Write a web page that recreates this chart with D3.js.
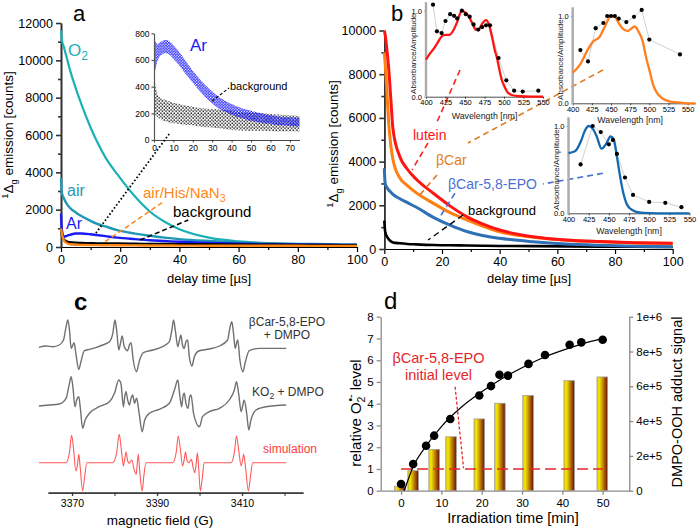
<!DOCTYPE html>
<html><head><meta charset="utf-8">
<script src="https://cdn.jsdelivr.net/npm/d3@7/dist/d3.min.js"></script>
<style>html,body{margin:0;padding:0;background:#fff;} svg{display:block;}</style>
</head><body>
<svg id="chart" width="698" height="528"></svg>
<script>
// ================= DATA =================
// Panel a : 1Δg emission decays
const aTime = [0,0.3,1,2,3,5,7,10,12,15,19,25,30,35,40,50,60,70,80,90,100];
const aO2   = [11600,11100,10700,10100,9500,8500,7600,6400,5700,4800,3900,2700,1900,1350,950,500,300,200,150,120,100];
const aAir  = [3700,2900,2600,2300,2100,1850,1650,1400,1250,1100,900,720,600,500,420,320,250,200,170,150,130];
const aAr   = [1800,900,550,600,650,720,720,680,640,580,500,420,360,320,280,220,180,150,130,120,110];
const aBg   = [1000,600,400,300,260,230,220,210,200,200,190,180,170,165,160,150,140,130,120,110,100];
const aAirHisNaN3 = [1000,700,350,200,150,120,110,100,100,95,90,85,80,80,75,70,70,65,65,60,60];
const aXTicks = [0,20,40,60,80,100];
const aYTicks = [0,2000,4000,6000,8000,10000,12000];
// Panel a inset (Ar vs background, scatter envelopes)
const insTime   = [0,2,4,6,8,10,13,16,20,24,28,32,36,40,45,50,55,60,65,70,75];
const insArLow  = [480,600,640,650,640,610,560,500,430,360,300,250,215,190,165,145,130,120,110,105,100];
const insArHigh = [760,720,740,750,740,710,660,600,520,450,390,340,300,270,240,220,200,185,175,170,165];
const insBgLow  = [200,170,150,140,130,125,120,115,110,100,95,90,85,75,72,70,70,68,66,65,64];
const insBgHigh = [470,340,310,300,290,280,270,260,250,240,235,230,225,220,210,205,200,195,190,185,180];
const insXTicks = [0,10,20,30,40,50,60,70];
const insYTicks = [0,200,400,600,800];

// Panel b : carotenoid decays
const bTime    = [0,0.3,1,1.5,2.3,3,5.4,8,11,17,23,28.6,34,40,51.6,63,75,87,100];
const bLutein  = [10000,9800,9000,8300,6800,5500,4220,3650,3200,2550,1950,1480,1150,870,560,410,340,290,260];
const bBetaCar = [9000,8500,7000,5800,4700,4100,3250,2900,2580,2090,1650,1330,1050,790,540,400,330,280,250];
const bEPO     = [3700,3000,2800,2700,2600,2500,2300,2120,1920,1450,1080,800,620,490,334,230,170,130,100];
const bBg      = [1300,800,550,450,350,300,260,230,210,180,170,160,150,140,130,120,110,100,90];
const bXTicks = [0,20,40,60,80,100];
const bYTicks = [0,2000,4000,6000,8000,10000];
// Panel b insets : absorbance spectra (curves) and emission amplitudes (points)
const nmTicks = [400,425,450,475,500,525,550];
const luteinNm  = [400,405,410,415,420,425,430,435,440,446,450,455,460,464,468,472,477,481,485,488,491,494,497,500,504,510,520,535,550];
const luteinAbs = [0.43,0.5,0.56,0.63,0.70,0.72,0.72,0.77,0.87,1.0,0.98,0.93,0.84,0.78,0.79,0.85,0.89,0.83,0.68,0.55,0.45,0.32,0.2,0.13,0.06,0.02,0.005,0,0];
const luteinPtNm  = [409,414,420,425,431,436,440,446,451,456,461,467,472,477,482,493,503,513,524,544];
const luteinPtAmp = [1.07,0.76,0.74,0.88,0.96,0.94,0.91,1.0,0.96,0.93,0.84,0.78,0.81,0.83,0.83,0.45,0.19,0.07,0.06,0.07];
const betaCarNm  = [400,410,420,427,435,442,450,455,460,466,472,477,481,486,491,496,501,505,510,515,520,530,545,560];
const betaCarAbs = [0.35,0.45,0.62,0.71,0.76,0.88,1.0,0.99,0.92,0.85,0.83,0.86,0.88,0.82,0.72,0.52,0.35,0.21,0.12,0.07,0.04,0.015,0.003,0];
const betaCarPtNm  = [410,420,430,440,445,450,455,460,470,480,490,500,540];
const betaCarPtAmp = [0.61,0.48,0.86,0.92,1.0,1.0,1.0,0.97,0.93,0.99,1.07,0.73,0.56];
const epoNm  = [400,408,416,420,425,430,435,441,447,452,456,460,464,468,472,477,483,493,510,550];
const epoAbs = [0.69,0.71,0.84,0.94,1.0,0.97,0.88,0.74,0.8,0.88,0.85,0.65,0.42,0.23,0.11,0.05,0.02,0.005,0,0];
const epoPtNm  = [415,430,440,450,455,460,470,480,500,520,540];
const epoPtAmp = [0.56,1.0,0.93,0.79,0.84,0.68,0.41,0.21,0.13,0.12,0.07];

// Panel c : EPR spectra [field (G), amplitude (a.u.)]
const cFieldTicks = [3370,3390,3410];
const cFieldMinor = [3370,3380,3390,3400,3410,3420];
const eprEPO = [[3362.2,-0.7],[3363.9,0.7],[3365.5,0],[3367.0,1.7],[3368.0,6.7],[3368.6,20],[3369.0,26.7],[3369.4,16.7],[3369.8,-1.7],[3370.2,1.7],[3370.5,4],[3370.9,-6.7],[3371.6,-22.7],[3372.1,-15],[3372.9,-4],[3374.1,-2.7],[3375.6,-1],[3377.2,1.7],[3378.8,5],[3379.6,13.3],[3380.1,26.7],[3380.5,16.7],[3381.0,-3.3],[3381.4,3.3],[3381.8,10.7],[3382.3,0],[3383.1,-4],[3383.5,1.7],[3383.9,4],[3384.4,-13.3],[3385.2,-25],[3385.8,-15],[3386.8,-6],[3389.0,-3.3],[3391.3,0],[3392.9,5],[3393.5,16.7],[3393.9,26.7],[3394.3,16.7],[3394.9,0],[3395.3,6.7],[3395.6,11.7],[3396.0,1.7],[3396.4,-1.7],[3396.8,5],[3397.2,6.7],[3397.6,-10],[3398.2,-19.3],[3398.8,-10],[3399.8,-4.3],[3402.3,-2.3],[3404.7,0.7],[3406.6,6.7],[3407.2,20],[3407.6,25],[3408.0,13.3],[3408.4,-1.7],[3408.8,5],[3409.0,6.7],[3409.5,-13.3],[3410.2,-25],[3410.8,-15],[3411.7,-4],[3414.1,-1.7],[3417.2,-1.7],[3420.4,-1.7]];
const eprKO2 = [[3362.2,-1],[3364.7,0],[3367.0,1],[3368.6,6.7],[3369.4,21.7],[3369.8,28.3],[3370.2,18.3],[3370.7,-1.7],[3371.1,5],[3371.6,8.3],[3372.0,-5],[3372.5,-23.3],[3373.1,-15],[3374.1,-8.3],[3376.4,-1.7],[3378.8,3.3],[3380.0,11.7],[3381.0,25],[3381.5,21.7],[3382.1,-1.7],[3382.4,8.3],[3382.7,13.3],[3383.1,5],[3383.5,0],[3383.9,6.7],[3384.3,10],[3384.7,1.7],[3385.2,6.7],[3385.8,-8.3],[3386.5,-26.7],[3387.1,-15],[3388.2,-8.3],[3390.5,-4.3],[3392.9,1.7],[3394.1,15],[3394.9,25],[3395.3,11.7],[3395.8,-1.7],[3396.1,8.3],[3396.4,11.7],[3396.8,1.7],[3397.3,-3.3],[3397.7,8.3],[3398.0,10],[3398.6,-8.3],[3400.0,-21.7],[3400.7,-11.7],[3402.3,-6.7],[3404.7,-3.3],[3407.0,5],[3408.2,15],[3408.7,23.3],[3409.2,11.7],[3409.8,-6.7],[3410.2,0],[3410.5,5],[3411.1,-8.3],[3411.6,-25],[3412.1,-15],[3413.3,-5],[3415.6,-1.7],[3420.4,0]];
const eprSim = [[3362.2,0],[3368.6,0],[3369.4,10],[3369.9,27.3],[3370.3,16.7],[3370.9,-8.3],[3371.3,-1.7],[3371.6,8.3],[3371.9,-3.3],[3372.5,-28.3],[3373.0,-13.3],[3373.5,0],[3379.6,0],[3380.5,10],[3381.1,28.3],[3381.6,13.3],[3382.1,-3.3],[3382.4,3.3],[3382.7,10.7],[3383.1,1.7],[3383.5,-0.7],[3383.8,1.7],[3384.1,2.7],[3384.5,-5],[3385.1,-11.7],[3385.3,-3.3],[3385.6,8.3],[3385.9,-6.7],[3386.5,-28.3],[3386.9,-13.3],[3387.4,0],[3393.7,0],[3394.5,10],[3395.0,26.7],[3395.5,13.3],[3396.0,-3.3],[3396.4,3.3],[3396.7,10.7],[3397.1,1.7],[3397.5,0],[3397.8,1.7],[3398.1,3.3],[3398.5,-5],[3398.9,-10],[3399.2,-1.7],[3399.5,10],[3399.8,-5],[3400.2,-28.3],[3400.7,-13.3],[3401.1,0],[3407.4,0],[3408.2,10],[3408.7,26.7],[3409.2,13.3],[3409.8,-3.3],[3410.1,1.7],[3410.4,8.3],[3410.8,-3.3],[3411.5,-28.3],[3412.0,-13.3],[3412.5,0],[3420.4,0]];

// Panel d : superoxide level & DMPO-OOH adduct signal
const dDotTime  = [0,3,6.2,8.2,12.2,19.4,22.3,24.4,26.5,31.6,35.7,41.8,44.7,50];
const dDotLevel = [0.31,1.23,2.07,2.53,3.3,4.38,4.81,5.33,5.29,5.83,6.24,6.71,6.82,6.94];
const dFitTime  = [0.8,3,6,10,15,20,25,30,35,40,45,50];
const dFitLevel = [0,1.1,2.0,2.95,3.85,4.55,5.15,5.65,6.1,6.45,6.75,7.0];
const dBarTime   = [-0.3,3,8.2,12.4,19.4,24.5,31.5,41.7,49.9];
const dBarSignal = [25000,115000,237500,310000,412500,502500,547500,632500,653750];
const dXTicks = [0,10,20,30,40,50];
const dYTicks = [0,1,2,3,4,5,6,7,8];
const dY2Ticks = [0,200000,400000,600000,800000,1000000];
const dInitialLevel = 1;

// ================= HELPERS =================
const FONT = 'Arial, "Liberation Sans", Helvetica, sans-serif';
const svg = d3.select('#chart').attr('font-family', FONT);
const defs = svg.append('defs');
const pairs = (t, v) => t.map((x, i) => [x, v[i]]);

function dotPattern(id, color, size, r) {
  const p = defs.append('pattern').attr('id', id).attr('patternUnits', 'userSpaceOnUse')
    .attr('width', size).attr('height', size);
  p.append('circle').attr('cx', size * 0.3).attr('cy', size * 0.3).attr('r', r).attr('fill', color);
  p.append('circle').attr('cx', size * 0.8).attr('cy', size * 0.75).attr('r', r).attr('fill', color);
}
dotPattern('dotsBlue', '#1a1aff', 2.8, 0.9);
dotPattern('dotsBlack', '#000', 3.4, 0.75);

const grad = defs.append('linearGradient').attr('id', 'barGrad')
  .attr('x1', '0%').attr('x2', '100%').attr('y1', '0%').attr('y2', '0%');
[[0, '#d9c900'], [0.22, '#f6e800'], [0.55, '#c08a00'], [0.8, '#94420a'], [1, '#6a1400']]
  .forEach(([o, c]) => grad.append('stop').attr('offset', o).attr('stop-color', c));

function styleAxis(g, size, lineColor, width, textColor) {
  g.attr('font-family', FONT).attr('font-size', size);
  g.selectAll('path.domain').attr('stroke', lineColor).attr('stroke-width', width);
  g.selectAll('.tick line').attr('stroke', lineColor).attr('stroke-width', width);
  g.selectAll('.tick text').attr('fill', textColor || '#000');
  return g;
}
function axis(gen, tx, ty) {
  return svg.append('g').attr('transform', `translate(${tx},${ty})`).call(gen);
}
function text(x, y, str, size, opts = {}) {
  const t = svg.append('text').attr('x', x).attr('y', y).attr('font-size', size)
    .attr('fill', opts.fill || '#000').attr('text-anchor', opts.anchor || 'start');
  if (opts.weight) t.attr('font-weight', opts.weight);
  t.text(str);
  return t;
}
function emissionLabel(x, y, size) {
  const t = svg.append('text').attr('transform', `translate(${x},${y}) rotate(-90)`)
    .attr('text-anchor', 'middle').attr('font-size', size);
  t.append('tspan').attr('font-size', size * 0.7).attr('dy', -size * 0.35).text('1');
  t.append('tspan').attr('dy', size * 0.35).text('Δ');
  t.append('tspan').attr('font-size', size * 0.7).attr('dy', size * 0.3).text('g');
  t.append('tspan').attr('dy', -size * 0.3).text(' emission [counts]');
}
function dashed(xs, ys, pts, color, dash, width) {
  svg.append('path').attr('d', d3.line().x(d => xs(d[0])).y(d => ys(d[1]))(pts))
    .attr('fill', 'none').attr('stroke', color).attr('stroke-width', width || 1.6)
    .attr('stroke-dasharray', dash);
}

// ================= PANEL a =================
const aX = d3.scaleLinear().domain([0, 100]).range([61, 357]);
const aY = d3.scaleLinear().domain([0, 12000]).range([247, 23]);
styleAxis(axis(d3.axisBottom(aX).tickValues([10, 30, 50, 70, 90]).tickSize(3).tickFormat('').tickSizeOuter(0), 0, 247), 12.5, '#000', 1.2);
styleAxis(axis(d3.axisBottom(aX).tickValues(aXTicks).tickSize(5).tickPadding(3).tickSizeOuter(0), 0, 247), 12.5, '#000', 1.2);
styleAxis(axis(d3.axisLeft(aY).tickValues(d3.range(1000, 12000, 2000)).tickSize(3).tickFormat('').tickSizeOuter(0), 61, 0), 12.5, '#333', 1.6);
styleAxis(axis(d3.axisLeft(aY).tickValues(aYTicks).tickSize(5).tickPadding(3).tickFormat(d3.format('d')).tickSizeOuter(0), 61, 0), 12.5, '#333', 1.6);

const aLine = d3.line().x(d => aX(d[0])).y(d => aY(d[1])).curve(d3.curveMonotoneX);
[[aO2, '#19b1b6', 2.2], [aAir, '#1f98b6', 2.4], [aAr, '#1a1af5', 2.4], [aBg, '#000', 2.2], [aAirHisNaN3, '#ff8717', 2.4]]
  .forEach(([v, c, w]) => svg.append('path').attr('d', aLine(pairs(aTime, v)))
    .attr('fill', 'none').attr('stroke', c).attr('stroke-width', w));

// inset a
const iX = d3.scaleLinear().domain([0, 75]).range([154, 299.5]);
const iY = d3.scaleLinear().domain([0, 800]).range([140, 33.3]);
const band = d3.area().x(d => iX(d[0])).y0(d => iY(d[1])).y1(d => iY(d[2])).curve(d3.curveMonotoneX);
svg.append('path').attr('d', band(insTime.map((t, i) => [t, insBgLow[i], insBgHigh[i]]))).attr('fill', 'url(#dotsBlack)');
svg.append('path').attr('d', band(insTime.map((t, i) => [t, insArLow[i], insArHigh[i]]))).attr('fill', 'url(#dotsBlue)');
styleAxis(axis(d3.axisBottom(iX).tickValues(insXTicks).tickSize(2.5).tickPadding(2).tickSizeOuter(0), 0, 140), 8.5, '#333', 0.9);
styleAxis(axis(d3.axisLeft(iY).tickValues(insYTicks).tickSize(2.5).tickPadding(2).tickSizeOuter(0), 154, 0), 8.5, '#555', 1.2);
text(190, 51, 'Ar', 17, { fill: '#1a1af5' });
text(230, 90, 'background', 11);
dashed(iX, iY, [[29.9, 292], [38.7, 390]], '#000', '3,2', 1.1);

// pointer lines a
dashed(aX, aY, [[11.8, 750], [36.8, 6107]], '#000', '1.6,2.2', 1.8);
dashed(aX, aY, [[14.9, 284], [34.6, 2427]], '#ff8717', '5,3', 1.5);
dashed(aX, aY, [[26.7, 375], [43.0, 1446]], '#000', '5,3', 1.5);

// labels a
const o2 = svg.append('text').attr('x', 68).attr('y', 56).attr('font-size', 17).attr('fill', '#19b1b6');
o2.append('tspan').text('O');
o2.append('tspan').attr('font-size', 12).attr('dy', 4).text('2');
text(67, 196, 'air', 16, { fill: '#1f98b6' });
text(66, 229, 'Ar', 16, { fill: '#1a1af5' });
const ahn = svg.append('text').attr('x', 143).attr('y', 198).attr('font-size', 15).attr('fill', '#ff8717');
ahn.append('tspan').text('air/His/NaN');
ahn.append('tspan').attr('font-size', 10.5).attr('dy', 4).text('3');
text(173, 217, 'background', 15);
text(209, 283, 'delay time [µs]', 13, { anchor: 'middle' });
emissionLabel(13, 135, 13.5);
text(73, 21, 'a', 22);

// ================= PANEL b =================
const bX = d3.scaleLinear().domain([0, 100]).range([384.3, 672.7]);
const bY = d3.scaleLinear().domain([0, 10000]).range([249, 30.5]);
styleAxis(axis(d3.axisBottom(bX).tickValues([10, 30, 50, 70, 90]).tickSize(3).tickFormat('').tickSizeOuter(0), 0, 249), 12.5, '#000', 1.2);
styleAxis(axis(d3.axisBottom(bX).tickValues(bXTicks).tickSize(5).tickPadding(3).tickSizeOuter(0), 0, 249), 12.5, '#000', 1.2);
styleAxis(axis(d3.axisLeft(bY).tickValues([1000, 3000, 5000, 7000, 9000]).tickSize(3).tickFormat('').tickSizeOuter(0), 384.3, 0), 12.5, '#333', 1.6);
styleAxis(axis(d3.axisLeft(bY).tickValues(bYTicks).tickSize(5).tickPadding(3).tickFormat(d3.format('d')).tickSizeOuter(0), 384.3, 0), 12.5, '#333', 1.6);
const bLine = d3.line().x(d => bX(d[0])).y(d => bY(d[1])).curve(d3.curveMonotoneX);
[[bBg, '#000', 2.6], [bEPO, '#2f6fb5', 3], [bBetaCar, '#ff7f10', 3], [bLutein, '#ff1414', 3]]
  .forEach(([v, c, w]) => svg.append('path').attr('d', bLine(pairs(bTime, v)))
    .attr('fill', 'none').attr('stroke', c).attr('stroke-width', w));

// pointer lines b (data coordinates of main panel b)
dashed(bX, bY, [[26.25, 8192], [18.27, 5812]], '#ff2020', '6,4', 1.6);
dashed(bX, bY, [[15.15, 4851], [9.6, 3616]], '#ff2020', '6,4', 1.6);
dashed(bX, bY, [[75.8, 8192], [29.0, 4851]], '#de7b1c', '6,4', 1.6);
dashed(bX, bY, [[18.27, 3387], [11.7, 2380]], '#de7b1c', '6,4', 1.6);
dashed(bX, bY, [[75.8, 3465], [55.0, 2975]], '#4a6fd6', '6,4', 1.6);
dashed(bX, bY, [[24.5, 2549], [18.6, 1327]], '#4a6fd6', '6,4', 1.6);
dashed(bX, bY, [[27.3, 1556], [15.2, 412]], '#000', '6,4', 1.4);

text(413, 140, 'lutein', 14, { fill: '#ff1414' });
text(436, 165, 'βCar', 14, { fill: '#e07b1c' });
text(448, 189, 'βCar-5,8-EPO', 14, { fill: '#4a6fd6' });
text(468, 215, 'background', 13);
text(529, 283, 'delay time [µs]', 13, { anchor: 'middle' });
emissionLabel(338, 144, 13.5);
text(391, 21, 'b', 22);

// insets b
function spectrumInset(xr, yr, domainX, nm, abs, ptNm, ptAmp, color, xLabelY, yLabelX) {
  const xs = d3.scaleLinear().domain(domainX).range(xr);
  const ys = d3.scaleLinear().domain([0, 1]).range(yr);
  styleAxis(axis(d3.axisBottom(xs).tickValues(nmTicks).tickSize(2).tickPadding(1).tickSizeOuter(0), 0, yr[0]), 7.5, '#222', 0.8);
  const ya = axis(d3.axisLeft(ys).tickValues([0, 1]).tickSize(2).tickPadding(2).tickSizeOuter(0), xr[0], 0);
  styleAxis(ya, 7.5, '#aaa', 1);
  ya.select('path.domain').attr('stroke-width', 2.4)
    .attr('d', `M0,${yr[0]}V${ys(1.1)}`);
  svg.append('path').attr('d', d3.line().x(d => xs(d[0])).y(d => ys(d[1]))(pairs(ptNm, ptAmp)))
    .attr('fill', 'none').attr('stroke', '#bbb').attr('stroke-width', 0.7);
  svg.append('path').attr('d', d3.line().x(d => xs(d[0])).y(d => ys(d[1])).curve(d3.curveMonotoneX)(pairs(nm, abs)))
    .attr('fill', 'none').attr('stroke', color).attr('stroke-width', 2.3);
  svg.append('g').selectAll('circle').data(pairs(ptNm, ptAmp)).join('circle')
    .attr('cx', d => xs(d[0])).attr('cy', d => ys(d[1])).attr('r', 2.1).attr('fill', '#000');
  text((xr[0] + xs(550)) / 2, xLabelY, 'Wavelength [nm]', 8.8, { anchor: 'middle', fill: '#222' });
  svg.append('text').attr('transform', `translate(${yLabelX},${(yr[0] + yr[1]) / 2}) rotate(-90)`)
    .attr('text-anchor', 'middle').attr('font-size', 8).attr('fill', '#222').text('Absorbance/Amplitude');
}
spectrumInset([426, 543], [96.7, 10.7], [400, 550], luteinNm, luteinAbs, luteinPtNm, luteinPtAmp, '#ff1414', 118.5, 416);
spectrumInset([572.7, 695.3], [103.3, 16], [400, 560], betaCarNm, betaCarAbs, betaCarPtNm, betaCarPtAmp, '#ff7f1e', 122.5, 563);
spectrumInset([568.5, 689.5], [213.3, 126], [400, 550], epoNm, epoAbs, epoPtNm, epoPtAmp, '#1469b0', 233.5, 559);

// ================= PANEL c =================
const cX = d3.scaleLinear().domain([3364.35, 3424.35]).range([48, 303]);
const cA = d3.scaleLinear().domain([-30, 30]).range([30, -30]);
styleAxis(axis(d3.axisBottom(cX).tickValues(cFieldMinor).tickSize(3).tickFormat('').tickSizeOuter(0), 0, 492.7), 10.5, '#333', 1.2);
styleAxis(axis(d3.axisBottom(cX).tickValues(cFieldTicks).tickSize(3).tickPadding(4).tickFormat(d3.format('d')).tickSizeOuter(0), 0, 492.7), 10.5, '#333', 1.2);
const cLine = d3.line().x(d => cX(d[0])).y(d => cA(d[1])).curve(d3.curveMonotoneX);
[[eprEPO, 346.7, '#707070', 1.4], [eprKO2, 405, '#707070', 1.4], [eprSim, 462.7, '#ff5a5a', 1.1]]
  .forEach(([data, base, c, w]) => svg.append('g').attr('transform', `translate(0,${base})`)
    .append('path').attr('d', cLine(data)).attr('fill', 'none').attr('stroke', c).attr('stroke-width', w));
text(287, 326, 'βCar-5,8-EPO', 12, { anchor: 'middle', fill: '#333' });
text(287, 339, '+ DMPO', 12, { anchor: 'middle', fill: '#333' });
const ko2 = svg.append('text').attr('x', 288).attr('y', 396).attr('font-size', 12).attr('fill', '#333').attr('text-anchor', 'middle');
ko2.append('tspan').text('KO');
ko2.append('tspan').attr('font-size', 8.5).attr('dy', 3).text('2');
ko2.append('tspan').attr('dy', -3).text(' + DMPO');
text(290, 452.5, 'simulation', 12, { anchor: 'middle', fill: '#ff3a3a' });
text(160, 525, 'magnetic field (G)', 13.5, { anchor: 'middle' });
text(74, 310, 'c', 24, { weight: 'bold' });

// ================= PANEL d =================
const dX = d3.scaleLinear().domain([-5.05, 56.6]).range([380.7, 629.3]);
const dY = d3.scaleLinear().domain([0, 8]).range([490.7, 316.7]);
const dY2 = d3.scaleLinear().domain([0, 1000000]).range([490.7, 316.7]);
styleAxis(axis(d3.axisBottom(dX).tickValues(dXTicks).tickSize(4).tickPadding(4).tickSizeOuter(0), 0, 490.7), 11.5, '#8c8c8c', 1.3);
styleAxis(axis(d3.axisLeft(dY).tickValues(dYTicks).tickSize(4).tickPadding(3).tickSizeOuter(0), 380.7, 0), 11.5, '#8c8c8c', 1.3);
styleAxis(axis(d3.axisRight(dY2).tickValues(dY2Ticks).tickSize(4).tickPadding(3)
  .tickFormat(d => d === 0 ? '0' : d3.format('.0e')(d)).tickSizeOuter(0), 629.3, 0), 11.5, '#8c8c8c', 1.3);
// bars
svg.append('g').selectAll('rect').data(pairs(dBarTime, dBarSignal)).join('rect')
  .attr('x', d => dX(d[0]) - 5.3).attr('width', 10.6)
  .attr('y', d => dY2(d[1])).attr('height', d => dY2(0) - dY2(d[1]))
  .attr('fill', 'url(#barGrad)').attr('stroke', '#a0a0a0').attr('stroke-width', 0.8);
// initial level
dashed(dX, dY, [[0, dInitialLevel], [50, dInitialLevel]], '#e3262b', '11,5', 1.6);
dashed(dX, dY, [[13.4, 4.78], [15.5, 1.03]], '#e3262b', '3,2', 1.3);
// fit and dots
svg.append('path').attr('d', d3.line().x(d => dX(d[0])).y(d => dY(d[1])).curve(d3.curveMonotoneX)(pairs(dFitTime, dFitLevel)))
  .attr('fill', 'none').attr('stroke', '#000').attr('stroke-width', 1.2);
svg.append('g').selectAll('circle').data(pairs(dDotTime, dDotLevel)).join('circle')
  .attr('cx', d => dX(d[0])).attr('cy', d => dY(d[1])).attr('r', 4.3).attr('fill', '#000');
text(438.5, 362.5, 'βCar-5,8-EPO', 14.5, { anchor: 'middle', fill: '#e3262b' });
text(438.5, 380, 'initial level', 14.5, { anchor: 'middle', fill: '#e3262b' });
text(513, 523, 'Irradiation time [min]', 14.5, { anchor: 'middle' });
const rel = svg.append('text').attr('transform', 'translate(361,413) rotate(-90)').attr('text-anchor', 'middle').attr('font-size', 15);
rel.append('tspan').text('relative O');
rel.append('tspan').attr('font-size', 10.5).attr('dy', 4).text('2');
rel.append('tspan').attr('font-size', 10.5).attr('dx', -5).attr('dy', -11).text('•-');
rel.append('tspan').attr('dy', 7).text(' level');
svg.append('text').attr('transform', 'translate(682,402) rotate(-90)').attr('text-anchor', 'middle')
  .attr('font-size', 14.5).text('DMPO-OOH adduct signal');
text(384, 309, 'd', 24);
</script></body></html>
